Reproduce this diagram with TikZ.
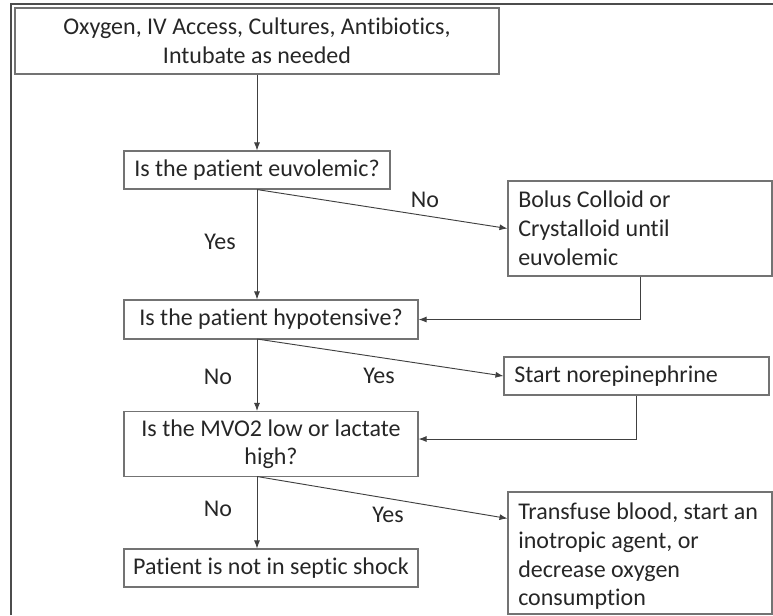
\documentclass[tikz,border=0pt]{standalone}
\usepackage{fontspec}
\setmainfont[Ligatures=NoCommon]{Carlito}
\usetikzlibrary{arrows.meta,calc}
\tikzset{
  box/.style={draw=black!55, line width=0.8pt, rectangle, inner sep=0pt,
    font=\fontsize{18}{21.4}\selectfont, text=black!85},
  cbox/.style={box, align=center},
  link/.style={draw=black!75, line width=0.7pt, -{Latex[length=6pt,width=4.5pt]}},
  lab/.style={font=\fontsize{18}{21.4}\selectfont, text=black!85, inner sep=0pt},
}
\begin{document}
\begin{tikzpicture}[x=0.75pt,y=-0.75pt]
\useasboundingbox (0,0) rectangle (773,615);
% outer frame
\draw[black!70, line width=0.8pt] (11,615) -- (11,4) -- (773,4);

% left column
\node[cbox, minimum width=484*0.75pt, minimum height=66*0.75pt] (start) at (257,41)
  {Oxygen, IV Access, Cultures, Antibiotics,\\Intubate as needed};
\node[cbox, minimum width=266*0.75pt, minimum height=38*0.75pt] (euv) at (257,170)
  {Is the patient euvolemic?};
\node[cbox, minimum width=294*0.75pt, minimum height=39*0.75pt] (hyp) at (271,319.5)
  {Is the patient hypotensive?};
\node[cbox, minimum width=294*0.75pt, minimum height=65*0.75pt] (mvo) at (271,444)
  {Is the MVO2 low or lactate\\high?};
\node[cbox, minimum width=294*0.75pt, minimum height=38*0.75pt] (notseptic) at (271,568)
  {Patient is not in septic shock};

% right column
\node[box, minimum width=264*0.75pt, minimum height=95*0.75pt] (bolus) at (640,228.5) {};
\node[lab, anchor=north west, align=left] (bolustxt) at (518,191)
  {Bolus Colloid or\\Crystalloid until\\euvolemic};
\node[box, minimum width=265*0.75pt, minimum height=38*0.75pt] (norepi) at (636.5,376) {};
\node[lab, anchor=west] (norepitxt) at (514,376) {Start norepinephrine};
\node[box, minimum width=264*0.75pt, minimum height=122*0.75pt] (transfuse) at (640,553) {};
\node[lab, anchor=north west, align=left] (transfusetxt) at (518,503)
  {Transfuse blood, start an\\inotropic agent, or\\decrease oxygen\\consumption};

% branch points under each question
\coordinate (e0) at (euv.south);
\coordinate (h0) at (257,339);
\coordinate (m0) at (257,476.5);

% connectors
\draw[link] (start.south) -- (euv.north);
\draw[link] (e0) -- (e0 |- hyp.north);
\draw[link] (e0) -- (bolus.west);
\draw[link] (bolus.south) |- (hyp.east);
\draw[link] (h0) -- (h0 |- mvo.north);
\draw[link] (h0) -- (norepi.west);
\draw[link] (norepi.south) |- ($(mvo.east)+(0,-5)$);
\draw[link] (m0) -- (m0 |- notseptic.north);
\draw[link] (m0) -- ($(transfuse.north west)+(0,27)$);

% branch labels
\node[lab] (l1) at (425,200) {No};
\node[lab] (l2) at (220,242) {Yes};
\node[lab] (l3) at (218,377) {No};
\node[lab] (l4) at (379,376) {Yes};
\node[lab] (l5) at (218,509) {No};
\node[lab] (l6) at (388,515) {Yes};
\end{tikzpicture}
\end{document}
